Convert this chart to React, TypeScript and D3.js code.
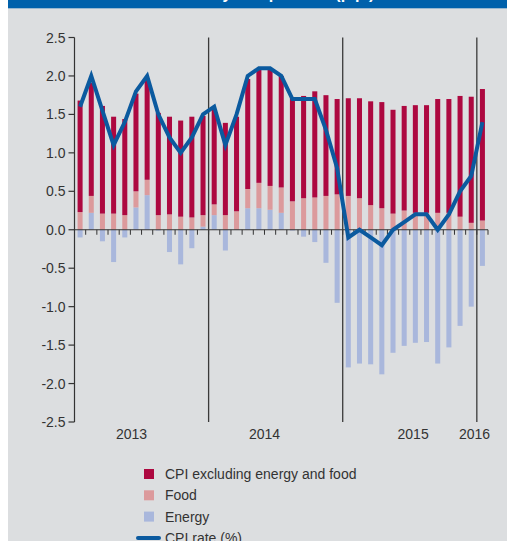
import React from "react";
import * as d3 from "d3";

const months = [
  "2013-01","2013-02","2013-03","2013-04","2013-05","2013-06","2013-07","2013-08","2013-09","2013-10","2013-11","2013-12",
  "2014-01","2014-02","2014-03","2014-04","2014-05","2014-06","2014-07","2014-08","2014-09","2014-10","2014-11","2014-12",
  "2015-01","2015-02","2015-03","2015-04","2015-05","2015-06","2015-07","2015-08","2015-09","2015-10","2015-11","2015-12",
  "2016-01",
];
const energy = [
  -0.10, 0.22, -0.15, -0.42, -0.10, 0.29, 0.45, -0.01, -0.29, -0.45, -0.24, 0.04,
  0.19, -0.27, 0.00, 0.28, 0.28, 0.26, 0.22, -0.01, -0.09, -0.16, -0.43, -0.95,
  -1.79, -1.74, -1.75, -1.88, -1.60, -1.51, -1.47, -1.46, -1.74, -1.53, -1.25, -1.00,
  -0.47,
];
const food = [
  0.23, 0.22, 0.21, 0.21, 0.19, 0.21, 0.20, 0.19, 0.20, 0.17, 0.16, 0.15,
  0.14, 0.19, 0.24, 0.25, 0.33, 0.31, 0.33, 0.37, 0.41, 0.42, 0.44, 0.46,
  0.44, 0.41, 0.32, 0.28, 0.21, 0.25, 0.22, 0.22, 0.22, 0.22, 0.17, 0.09,
  0.12,
];
const core = [
  1.45, 1.47, 1.40, 1.26, 1.25, 1.27, 1.31, 1.33, 1.27, 1.25, 1.31, 1.29,
  1.23, 1.20, 1.23, 1.43, 1.47, 1.51, 1.45, 1.35, 1.33, 1.38, 1.31, 1.24,
  1.27, 1.30, 1.35, 1.38, 1.35, 1.36, 1.40, 1.40, 1.48, 1.48, 1.57, 1.64,
  1.71,
];
const cpiRate = [
  1.6, 2.0, 1.55, 1.1, 1.4, 1.8, 2.0, 1.5, 1.2, 1.0, 1.2, 1.5,
  1.6, 1.1, 1.5, 2.0, 2.1, 2.1, 2.0, 1.7, 1.7, 1.7, 1.3, 0.8,
  -0.1, 0.0, -0.1, -0.2, 0.0, 0.1, 0.2, 0.2, 0.0, 0.2, 0.5, 0.7,
  1.4,
];
const yTicks = [2.5, 2.0, 1.5, 1.0, 0.5, 0.0, -0.5, -1.0, -1.5, -2.0, -2.5];
const yearLabels = ["2013", "2014", "2015", "2016"];
const yearLabelPos = [4.6, 16.5, 29.8, 35.3];
const yearBreaks = [12, 24, 36];
const seriesKeys = ["energy", "food", "core"];
const legendItems = [
  { label: "CPI excluding energy and food", kind: "rect", key: "core" },
  { label: "Food", kind: "rect", key: "food" },
  { label: "Energy", kind: "rect", key: "energy" },
  { label: "CPI rate (%)", kind: "line", key: "cpi" },
];
const title = "Inflation by components (p.p.)";

const colors: Record<string, string> = {
  core: "#ad0840",
  food: "#dc9a9c",
  energy: "#a9b7dc",
  cpi: "#0b5a9f",
};

export default function App() {
  const W = 507, H = 541;
  const x0 = 74.5, x1 = 488;
  const n = months.length;
  const x = d3.scaleBand<number>()
    .domain(d3.range(n))
    .range([x0, x1])
    .paddingInner(0.55)
    .paddingOuter(0.275);
  const step = x.step();
  const cx = (i: number) => (x(Math.floor(i)) as number) + x.bandwidth() / 2 + (i - Math.floor(i)) * step;
  const y = d3.scaleLinear().domain([-2.5, 2.5]).range([422, 37.5]);

  const rows = months.map((m, i) => ({ i, energy: energy[i], food: food[i], core: core[i] }));
  const stacked = d3.stack<any>().keys(seriesKeys).offset(d3.stackOffsetDiverging)(rows);

  const line = d3.line<number>()
    .x((_, i) => cx(i))
    .y((d) => y(d))
    .curve(d3.curveLinear);

  const boundary = (k: number) => x0 + k * step;
  const textColor = "#333";
  const font = "'Liberation Sans', Arial, sans-serif";

  return (
    <svg width={W} height={H} style={{ position: "absolute", left: 0, top: 0 }} fontFamily={font}>
      <rect x={0} y={0} width={W} height={H} fill="#ffffff" />
      <rect x={8} y={0} width={W - 8} height={H} fill="#dcdee0" />
      <rect x={8} y={0} width={W - 8} height={8.3} fill="#0061ab" />
      <text x={146} y={-0.6} fill="#fff" fontSize={16} fontWeight="bold" textAnchor="start">
        {title}
      </text>

      {/* bars */}
      {stacked.map((s) => (
        <g key={s.key} fill={colors[s.key]}>
          {s.map((d, i) => {
            const top = y(Math.max(d[0], d[1]));
            const bot = y(Math.min(d[0], d[1]));
            return <rect key={i} x={x(i)} y={top} width={x.bandwidth()} height={Math.max(0, bot - top)} />;
          })}
        </g>
      ))}

      {/* zero line & ticks */}
      <line x1={x0} x2={x1} y1={y(0)} y2={y(0)} stroke={textColor} strokeWidth={1.2} />
      {d3.range(1, n + 1).map((k) => (
        <line key={k} x1={boundary(k)} x2={boundary(k)} y1={y(0)} y2={y(0) + 5} stroke={textColor} strokeWidth={1} />
      ))}

      {/* year separators */}
      {yearBreaks.map((k) => (
        <line key={k} x1={boundary(k)} x2={boundary(k)} y1={y(2.5)} y2={y(-2.5)} stroke="#3a3a3a" strokeWidth={1.3} />
      ))}

      {/* y axis */}
      <line x1={x0} x2={x0} y1={y(2.5)} y2={y(-2.5)} stroke={textColor} strokeWidth={1.2} />
      {yTicks.map((t) => (
        <g key={t}>
          <line x1={x0 - 6} x2={x0} y1={y(t)} y2={y(t)} stroke={textColor} strokeWidth={1.2} />
          <text x={x0 - 9} y={y(t)} dy="0.36em" textAnchor="end" fontSize={14} fill={textColor}>
            {t.toFixed(1)}
          </text>
        </g>
      ))}

      {/* CPI line */}
      <path d={line(cpiRate) || ""} fill="none" stroke={colors.cpi} strokeWidth={4} strokeLinejoin="miter" />

      {/* year labels */}
      {yearLabels.map((lab, i) => (
        <text key={lab} x={cx(yearLabelPos[i])} y={439} textAnchor="middle" fontSize={14} fill={textColor}>
          {lab}
        </text>
      ))}

      {/* legend */}
      {legendItems.map((it, i) => {
        const yc = 474 + i * 21.3;
        return (
          <g key={it.key}>
            {it.kind === "rect" ? (
              <rect x={144} y={yc - 5} width={10} height={10} fill={colors[it.key]} />
            ) : (
              <line x1={138} x2={159} y1={yc} y2={yc} stroke={colors.cpi} strokeWidth={4} strokeLinecap="round" />
            )}
            <text x={165} y={yc} dy="0.35em" fontSize={14} fill={textColor}>
              {it.label}
            </text>
          </g>
        );
      })}
    </svg>
  );
}
